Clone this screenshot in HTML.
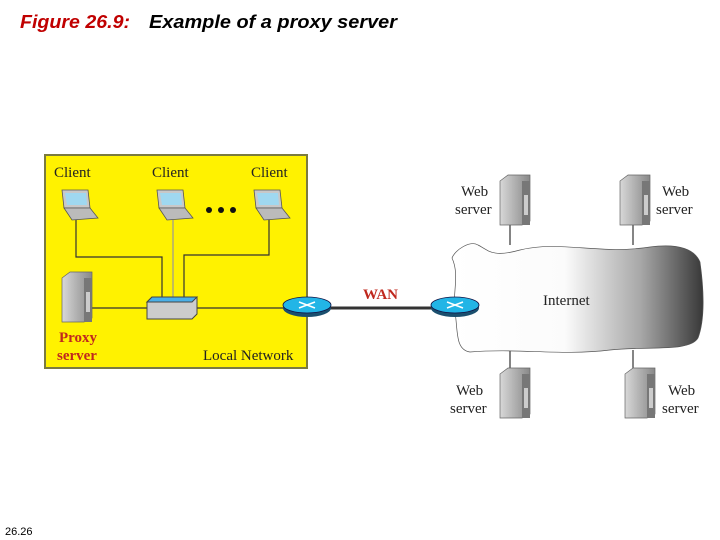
<!DOCTYPE html>
<html><head><style>body{margin:0;background:#fff}svg{display:block}</style></head><body>
<svg width="720" height="540" viewBox="0 0 720 540" xmlns="http://www.w3.org/2000/svg">
<defs>
<linearGradient id="cg" x1="0" x2="1" y1="0" y2="0">
<stop offset="0" stop-color="#fff"/><stop offset="0.45" stop-color="#fbfbfb"/><stop offset="0.75" stop-color="#a8a8a8"/><stop offset="1" stop-color="#383838"/></linearGradient>
<linearGradient id="sv" x1="0" x2="1"><stop offset="0" stop-color="#d8d8d8"/><stop offset="1" stop-color="#888"/></linearGradient>
<g id="srv"><path d="M0 6 L8 0 L30 0 L30 46 L22 50 L0 50 Z" fill="url(#sv)" stroke="#666" stroke-width="0.7"/><rect x="22" y="6" width="8" height="44" fill="#777"/><rect x="24" y="20" width="4" height="20" fill="#ccc"/></g>
<g id="lap"><path d="M2 0 L28 0 L30 18 L4 18 Z" fill="#c8c8c8" stroke="#555" stroke-width="0.8"/><path d="M5 3 L26 3 L27 15 L7 15 Z" fill="#9fd8f0"/><path d="M4 18 L30 18 L38 28 L12 30 Z" fill="#bbb" stroke="#555" stroke-width="0.8"/></g>
<g id="rt"><ellipse cx="0" cy="3" rx="24" ry="9" fill="#1a4f6e"/><ellipse cx="0" cy="0" rx="24" ry="8" fill="#22b5e6" stroke="#114" stroke-width="0.8"/><path d="M-8 -3 L8 3 M-8 3 L8 -3" stroke="#fff" stroke-width="1.5"/></g>
</defs>
<text x="20" y="28" font-family="Liberation Sans, sans-serif" font-style="italic" font-weight="bold" font-size="18" fill="#c00000" textLength="110" lengthAdjust="spacingAndGlyphs">Figure 26.9:</text>
<text x="149" y="28" font-family="Liberation Sans, sans-serif" font-style="italic" font-weight="bold" font-size="18" fill="#000" textLength="248" lengthAdjust="spacingAndGlyphs">Example of a proxy server</text>
<rect x="45" y="155" width="262" height="213" fill="#fff200" stroke="#7a7a40" stroke-width="2"/>
<g font-family="Liberation Serif, serif" font-size="15" fill="#222">
<text x="54" y="177">Client</text><text x="152" y="177">Client</text><text x="251" y="177">Client</text>
<text x="203" y="360">Local Network</text>
<text x="461" y="196">Web</text><text x="455" y="214">server</text>
<text x="662" y="196">Web</text><text x="656" y="214">server</text>
<text x="456" y="395">Web</text><text x="450" y="413">server</text>
<text x="668" y="395">Web</text><text x="662" y="413">server</text>
</g>
<g font-family="Liberation Serif, serif" font-size="15" font-weight="bold" fill="#c0281e">
<text x="59" y="342">Proxy</text><text x="57" y="360">server</text><text x="363" y="299">WAN</text></g>
<g stroke="#333" stroke-width="1.2" fill="none">
<path d="M76 220 V257 H162 V298"/><path d="M173 220 V298" stroke="#999"/><path d="M269 220 V255 H184 V298"/>
<path d="M92 308 H150"/><path d="M197 308 H285"/>
<path d="M510 224 V245"/><path d="M633 224 V245"/><path d="M510 350 V370"/><path d="M633 350 V370"/>
</g>
<use href="#lap" x="60" y="190"/><use href="#lap" x="155" y="190"/><use href="#lap" x="252" y="190"/>
<circle cx="209" cy="210" r="3" fill="#111"/><circle cx="221" cy="210" r="3" fill="#111"/><circle cx="233" cy="210" r="3" fill="#111"/>
<use href="#srv" x="62" y="272"/>
<path d="M147 302 L152 297 L197 297 L197 314 L192 319 L147 319 Z" fill="#ccc" stroke="#444"/><path d="M147 302 L152 297 L197 297 L192 302 Z" fill="#4ab0e8" stroke="#444"/>
<path d="M452 258 C455 250 470 240 478 245 C488 250 492 258 520 250 C560 240 600 255 650 247 C680 243 695 250 700 262 C704 290 705 320 698 338 C690 352 650 346 610 350 C560 356 520 348 470 352 C455 350 458 330 455 312 C452 295 460 275 452 258 Z" fill="url(#cg)" stroke="#555" stroke-width="0.7"/>
<text x="543" y="305" font-family="Liberation Serif, serif" font-size="15" fill="#222">Internet</text>
<line x1="310" y1="308" x2="452" y2="308" stroke="#333" stroke-width="3"/>
<use href="#rt" x="307" y="305"/><use href="#rt" x="455" y="305"/>
<use href="#srv" x="500" y="175"/><use href="#srv" x="620" y="175"/><use href="#srv" x="500" y="368"/><use href="#srv" x="625" y="368"/>
<text x="5" y="535" font-family="Liberation Sans, sans-serif" font-size="11" fill="#000">26.26</text>
</svg>
</body></html>
